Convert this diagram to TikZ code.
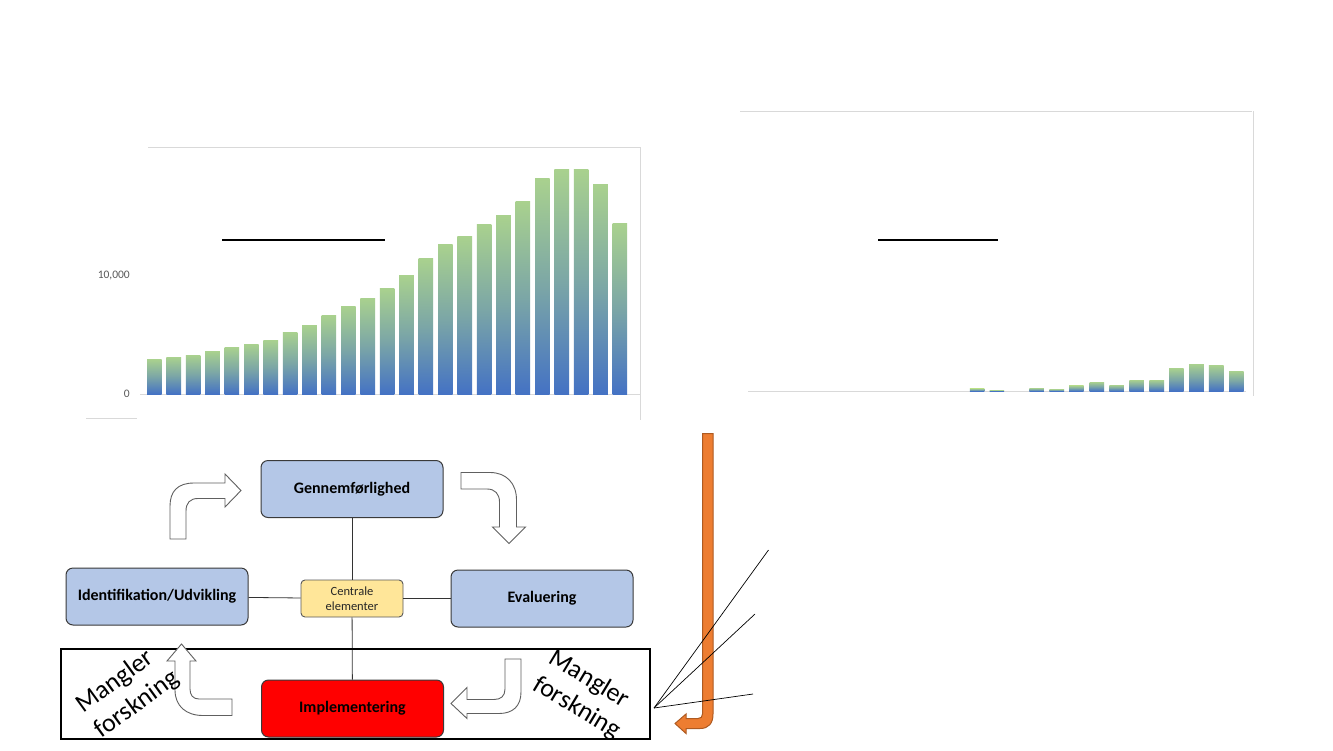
\documentclass[tikz,border=0pt]{standalone}
\usepackage{fontspec}
\setmainfont{Carlito}
\definecolor{boxblue}{HTML}{B4C7E7}
\definecolor{boxedge}{HTML}{3A3A3A}
\definecolor{centfill}{HTML}{FFE699}
\definecolor{centedge}{HTML}{595959}
\definecolor{implred}{HTML}{FF0000}
\definecolor{barG}{HTML}{A9D18E}
\definecolor{barB}{HTML}{4472C4}
\definecolor{gridgray}{HTML}{D9D9D9}
\definecolor{labelgray}{HTML}{595959}
\definecolor{orangeA}{HTML}{ED7D31}
\definecolor{orangeE}{HTML}{AE5A21}
\definecolor{arrowedge}{HTML}{606060}
\begin{document}
\begin{tikzpicture}[x=1pt,y=-1pt,
  box/.style={draw=boxedge, line width=1pt, fill=boxblue, rounded corners=7pt,
    minimum width=182pt, minimum height=57pt, inner sep=0pt,
    font=\fontsize{16}{19}\selectfont\bfseries, text=black},
  centbox/.style={draw=centedge, line width=0.9pt, fill=centfill, rounded corners=4pt,
    minimum width=102pt, minimum height=37pt, inner sep=0pt, align=center,
    font=\fontsize{12.5}{15}\selectfont, text=black!85},
  link/.style={draw=black!80, line width=0.8pt},
  bararrow/.style={draw=arrowedge, line width=0.9pt, fill=white},
  bar/.style={top color=barG, bottom color=barB, middle color=barG!55!barB},
  grid/.style={draw=gridgray, line width=1pt},
  ylab/.style={text=labelgray, font=\fontsize{11.5}{13}\selectfont, anchor=east, inner sep=0pt},
  mangler/.style={font=\fontsize{26}{31}\selectfont, align=left, text=black, inner sep=0pt},
  pointer/.style={draw=black, line width=0.7pt}]
\useasboundingbox (0,0) rectangle (1333,750);
\fill[white] (0,0) rectangle (1333,750);

% ---------- left chart ----------
\draw[grid] (148,147) -- (640,147);
\draw[grid] (640,147) -- (640,420);
\draw[grid] (140,394.5) -- (640,394.5);
\draw[grid] (86,418) -- (137,418);
\foreach \t [count=\i from 0] in {359.3,357.3,355,351.3,347.3,344,340,332.3,325,315.3,306.3,298,288.3,275.7,258.3,244.3,236.3,224,215.7,201.3,178.3,169.3,169.3,184.3,223.3}
  {\shade[bar] ({147+\i*19.4},394) rectangle ({161.6+\i*19.4},\t);}
\node[ylab] (y10k) at (130,275) {10,000};
\node[ylab] (y0) at (130,394) {0};
\draw[line width=2pt] (222,240) -- (385,240);

% ---------- right chart ----------
\draw[grid] (740,111) -- (1252,111);
\draw[grid] (1253,111) -- (1253,396);
\draw[grid] (748,391.5) -- (1246,391.5);
\foreach \x/\t in {969.8/388.5,989.5/390,1029.3/388,1049.4/389,1069.1/385.7,1089.5/382,1109.3/385,1129.3/380,1149.4/380,1169.1/368.3,1189.2/364,1208.9/365.3,1229/371}
  {\shade[bar] (\x,391) rectangle ({\x+14.6},\t);}
\draw[line width=2pt] (878,240) -- (998,240);

% ---------- process diagram ----------
\node[box] (gen) at (352,489) {Gennemførlighed};
\node[box] (ident) at (157,596.5) {Identifikation/Udvikling};
\node[box] (eval) at (542,598.5) {Evaluering};
\node[centbox] (cent) at (352,598.5) {Centrale\\elementer};
\node[box, fill=implred] (impl) at (352.5,708.5) {Implementering};

\draw[link] (gen) -- (cent);
\draw[link] (cent) -- (impl);
\draw[link] (ident) -- (cent);
\draw[link] (cent) -- (eval);

\node[draw=black, line width=2pt, minimum width=589pt, minimum height=90pt, inner sep=0pt] (frame) at (355.5,694) {};

% block arrows
\draw[bararrow] (170,539) -- (170,506) .. controls (170,491) and (178,483) .. (194,483) -- (225,483) -- (225,474) -- (241,490.5) -- (225,507) -- (225,498.5) -- (198,498.5) .. controls (190,498.5) and (186,503) .. (186,511) -- (186,539) -- cycle;
\draw[bararrow] (461,472.5) -- (490,472.5) .. controls (506,472.5) and (516.5,483) .. (516.5,500) -- (516.5,527) -- (525.5,527) -- (509,543.5) -- (492.5,527) -- (499.5,527) -- (499.5,502) .. controls (499.5,494) and (495,489) .. (487,489) -- (461,489) -- cycle;
\draw[bararrow] (505,659) -- (521,659) -- (521,692) .. controls (521,706) and (513,713.5) .. (499,713.5) -- (467,713.5) -- (467,718.5) -- (451,703.5) -- (467,687.5) -- (467,699.5) -- (494,699.5) .. controls (501,699.5) and (505,696) .. (505,689) -- cycle;
\draw[bararrow] (232,699) -- (232,715.5) -- (203,715.5) .. controls (186,715.5) and (175,706) .. (175,690) -- (175,661) -- (167,661) -- (181.5,644) -- (196,661) -- (190,661) -- (190,689) .. controls (190,695) and (193,699) .. (199,699) -- cycle;

% Mangler forskning
\node[mangler, rotate=36] (mfl) at (128,692) {Mangler\\forskning};
\node[mangler, rotate=-31] (mfr) at (585,695) {Mangler\\forskning};

% orange arrow
\draw[draw=orangeE, line width=1pt, fill=orangeA] (702.5,433.5) -- (713,433.5) -- (713,714) .. controls (713,723) and (709,728.5) .. (700,728.5) -- (686,728.5) -- (686,733.5) -- (675,723.5) -- (686,714) -- (686,718.5) -- (698,718.5) .. controls (701,718.5) and (702.5,717) .. (702.5,714) -- cycle;

% converging thin lines
\coordinate (conv) at (654,708);
\coordinate (e1) at (768.5,550);
\coordinate (e2) at (755,614);
\coordinate (e3) at (753,694);
\draw[pointer] (conv) -- (e1);
\draw[pointer] (conv) -- (e2);
\draw[pointer] (conv) -- (e3);
\end{tikzpicture}
\end{document}
